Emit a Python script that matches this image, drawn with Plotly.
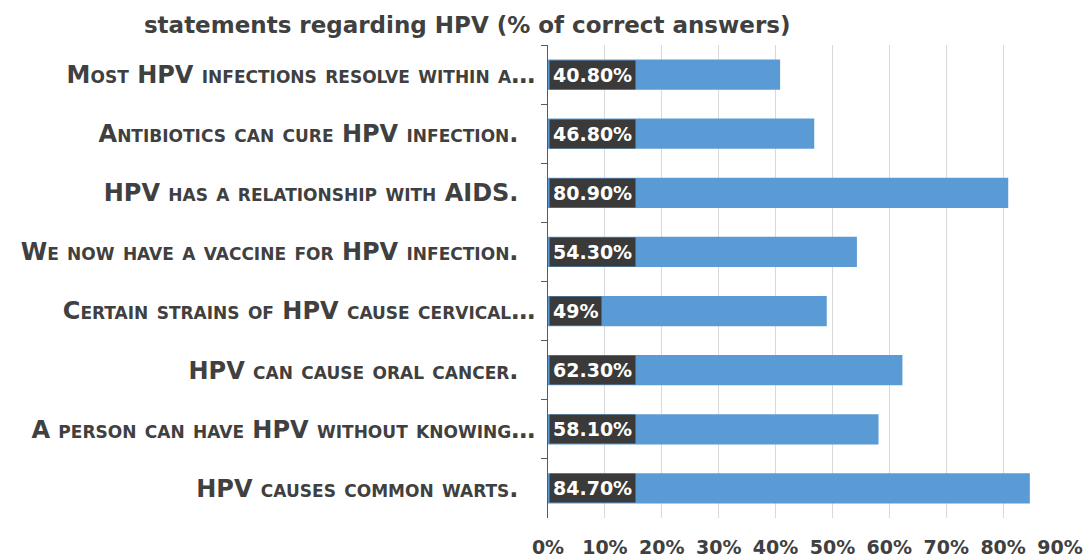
import plotly.graph_objects as go

categories = [
    "Most HPV infections resolve within a…",
    "Antibiotics can cure HPV infection.\u00a0\u00a0",
    "HPV has a relationship with AIDS.\u00a0\u00a0",
    "We now have a vaccine for HPV infection.\u00a0\u00a0",
    "Certain strains of HPV cause cervical…",
    "HPV can cause oral cancer.\u00a0\u00a0",
    "A person can have HPV without knowing…",
    "HPV causes common warts.\u00a0\u00a0",
]
values = [0.408, 0.468, 0.809, 0.543, 0.49, 0.623, 0.581, 0.847]
value_labels = ["40.80%", "46.80%", "80.90%", "54.30%", "49%", "62.30%", "58.10%", "84.70%"]
x_ticks = [0, 0.1, 0.2, 0.3, 0.4, 0.5, 0.6, 0.7, 0.8, 0.9]
title_text = "statements regarding HPV (% of correct answers)"

FONT = "DejaVu Sans"
DARK = "#404040"

fig = go.Figure()
fig.add_trace(go.Bar(
    y=categories, x=values, orientation="h",
    marker=dict(color="#5B9BD5", line=dict(width=0)),
    hoverinfo="skip",
))

for cat, lab in zip(categories, value_labels):
    fig.add_annotation(
        x=0, y=cat, xref="x", yref="y", text=lab, showarrow=False,
        xanchor="left", yanchor="middle", xshift=1,
        font=dict(family=FONT, size=19, color="white", weight="bold"),
        bgcolor="#3a3a3a", borderpad=3,
    )

fig.update_layout(
    width=1089, height=559,
    margin=dict(l=548, r=29, t=45, b=41, autoexpand=False),
    paper_bgcolor="white", plot_bgcolor="white",
    bargap=0.49, showlegend=False,
    title=dict(text=title_text, x=0.429, xanchor="center", y=0.955, yanchor="middle",
               font=dict(family=FONT, size=23, color=DARK, weight="bold")),
)
fig.update_xaxes(
    range=[0, 0.9], tickvals=x_ticks, tickformat=".0%",
    showgrid=True, gridcolor="#d9d9d9", gridwidth=1,
    zeroline=False, showline=False, ticks="", automargin=False,
    tickfont=dict(family=FONT, size=19, color=DARK, weight="bold"),
    ticklabelstandoff=16,
)
fig.update_yaxes(
    autorange="reversed", showline=True, linecolor="#595959", linewidth=1,
    ticks="outside", tickson="boundaries", ticklen=6, tickcolor="#595959",
    showgrid=False, automargin=False,
    tickfont=dict(family=FONT, size=24, color=DARK, weight="bold", variant="small-caps"),
    ticklabelstandoff=7,
)

fig.write_html(
    "out.html",
    config={"displayModeBar": False},
    post_script="document.body.style.margin='0';document.body.style.overflow='hidden';",
)
